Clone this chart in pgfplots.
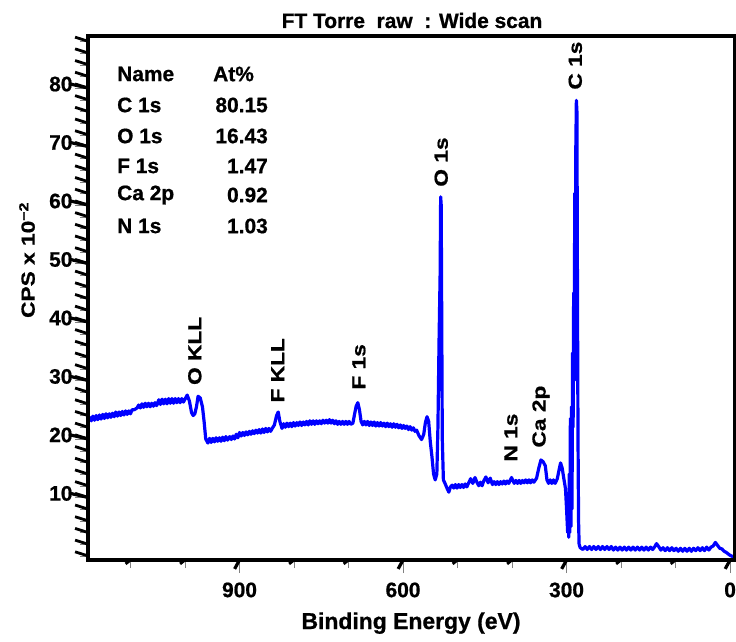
\documentclass[border=0pt]{standalone}
\usepackage{fontspec}
\setmainfont{Liberation Sans}[BoldFeatures={FakeBold=0.8}]
\newfontfamily\widefont{Liberation Sans}[FakeStretch=1.2,BoldFeatures={FakeBold=0.8}]
\usepackage{pgfplots}
\pgfplotsset{compat=1.18}
\newcommand\fs[1]{\fontsize{#1}{#1}\selectfont\bfseries}
\begin{document}
\begin{tikzpicture}
\path[use as bounding box] (-88bp,-82bp) rectangle (648bp,560bp);
\begin{axis}[
  scale only axis, width=647bp, height=524bp,
  at={(0,0)}, anchor=south west,
  x dir=reverse, xmin=-9, xmax=1178, ymin=-0.7, ymax=88.9,
  xtick={0,300,600,900}, minor xtick={100,200,400,500,700,800,1000,1100},
  ytick={10,20,30,40,50,60,70,80}, minor ytick={0,2,...,88},
  tick pos=left, tick align=outside,
  major tick length=13bp, minor tick length=8bp,
  /pgf/number format/assume math mode=true,
  ticklabel style={font=\fs{21}},
  xticklabel style={yshift=-6bp},
  yticklabel style={yshift=4bp, xshift=1bp},
  clip=false,
]
\addplot[blue, line width=3.2bp, line join=round] coordinates {
(1178,23.0)(1175,23.7)(1172,23.1)(1169,23.9)(1166,23.2)(1163,24.0)(1160,23.3)(1157,24.1)(1154,23.4)(1151,24.2)(1148,23.5)(1145,24.3)(1142,23.6)(1139,24.3)(1136,23.7)(1133,24.4)(1130,23.8)(1127,24.6)(1124,23.9)(1121,24.6)(1118,24.0)(1115,24.7)(1112,24.1)(1109,24.8)(1106,24.2)(1103,24.8)(1100,24.3)(1097,25.0)(1093,25.0)(1088,25.3)(1085,25.8)(1082,25.3)(1079,26.0)(1076,25.4)(1073,26.1)(1070,25.5)(1067,26.1)(1064,25.5)(1061,26.1)(1058,25.6)(1055,26.2)(1052,25.7)(1048,26.7)(1045,25.9)(1042,26.8)(1039,26.0)(1036,26.8)(1033,26.0)(1030,26.9)(1027,26.1)(1024,26.9)(1021,26.1)(1018,26.9)(1015,26.2)(1012,26.9)(1009,26.2)(1006,26.9)(1003,26.3)(1000,26.8)(996,27.5)(992,26.5)(988,24.5)(985,24.0)(982,24.3)(979,25.5)(976,27.3)(972,27.0)(968,25.5)(965,23.0)(962,20.0)(958,19.3)(955,20.1)(952,19.4)(949,20.1)(946,19.5)(943,20.2)(940,19.6)(937,20.2)(934,19.6)(931,20.3)(928,19.7)(925,20.4)(922,19.8)(918,20.4)(915,19.9)(912,20.5)(909,20.0)(906,20.8)(903,20.2)(900,21.1)(897,20.5)(894,21.1)(891,20.6)(888,21.2)(885,20.7)(882,21.3)(879,20.8)(876,21.4)(873,20.9)(870,21.5)(867,21.0)(864,21.6)(861,21.0)(858,21.7)(855,21.1)(852,21.8)(849,21.2)(846,21.8)(843,21.3)(840,21.8)(836,22.4)(832,24.0)(829,24.6)(826,23.0)(822,21.8)(819,22.6)(816,22.0)(813,22.7)(810,22.1)(807,22.7)(804,22.1)(801,22.8)(798,22.2)(795,22.8)(792,22.3)(789,22.9)(786,22.3)(783,22.9)(780,22.4)(777,23.0)(774,22.4)(771,23.1)(768,22.5)(765,23.1)(762,22.5)(759,23.1)(756,22.6)(753,23.1)(750,22.6)(747,23.2)(744,22.7)(741,23.2)(738,22.7)(735,23.3)(732,22.7)(729,23.2)(726,22.6)(723,23.1)(720,22.5)(717,23.0)(714,22.5)(711,23.0)(708,22.5)(705,23.0)(702,22.5)(699,23.0)(696,22.5)(692,22.7)(689,24.2)(686,25.6)(683,26.2)(680,25.0)(677,23.0)(674,22.4)(671,23.0)(668,22.4)(665,23.0)(662,22.3)(659,22.9)(656,22.3)(653,22.9)(650,22.2)(647,22.8)(644,22.2)(641,22.8)(638,22.2)(635,22.7)(632,22.1)(629,22.7)(626,22.1)(623,22.6)(620,22.0)(617,22.6)(614,22.0)(611,22.5)(608,21.9)(605,22.4)(602,21.8)(599,22.3)(596,21.8)(593,22.2)(590,21.6)(587,22.1)(584,21.5)(581,21.9)(578,21.3)(575,21.5)(571,20.6)(566,19.9)(562,20.8)(559,22.8)(556,23.8)(553,23.0)(550,19.5)(547,17.0)(544,14.0)(541,13.0)(538,14.0)(536,22.0)(534,36.4)(532,48.0)(531,61.4)(530,60.0)(529,40.0)(528,20.0)(526,13.0)(523,12.4)(519,11.5)(516,10.9)(513,11.8)
(510,12.1)(507,11.6)(504,12.2)(501,11.6)(498,12.2)(495,11.7)(492,12.2)(489,11.7)(486,12.3)(483,11.8)(480,12.4)(476,13.2)(472,12.4)(468,13.4)(464,12.5)(461,12.0)(458,12.6)(455,12.0)(452,12.8)(448,13.5)(444,12.5)(440,13.3)(436,12.2)(433,12.7)(430,12.2)(427,12.7)(424,12.2)(421,12.7)(418,12.3)(415,12.8)(412,12.3)(409,12.8)(406,12.4)(401,13.4)(396,12.4)(393,12.9)(390,12.4)(387,12.9)(384,12.4)(381,12.9)(378,12.5)(375,13.0)(372,12.5)(369,13.0)(366,12.5)(363,13.0)(360,12.6)(355,13.3)(351,15.0)(347,16.4)(343,16.1)(339,15.4)(336,13.0)(333,12.4)(330,13.0)(327,12.4)(324,13.0)(321,12.4)(317,13.2)(314,14.6)(311,15.9)(308,15.0)(305,13.2)(302,11.5)(300,8.0)(298,4.0)(297,9.0)(296,3.2)(295,14.0)(294,4.0)(293,23.5)(292,5.0)(291,25.5)(290,8.0)(289,34.7)(288,22.0)(287,45.0)(286,30.0)(285,62.0)(284,40.0)(283,70.0)(282,77.9)(281,76.0)(280,45.0)(279,20.0)(278,6.0)(277,2.0)(275,1.4)(270,1.1)(266,1.6)(262,1.1)(258,1.6)(254,1.1)(250,1.6)(246,1.1)(242,1.6)(238,1.1)(234,1.6)(230,1.1)(226,1.6)(222,1.1)(218,1.6)(214,1.0)(210,1.5)(206,1.0)(202,1.5)(198,1.0)(194,1.5)(190,1.0)(186,1.5)(182,1.0)(178,1.5)(174,1.0)(170,1.5)(166,1.0)(162,1.5)(158,1.0)(154,1.5)(150,1.0)(146,1.5)(142,1.1)(138,1.6)(135,2.1)(131,1.6)(127,1.0)(123,1.4)(119,0.9)(115,1.4)(111,0.9)(107,1.4)(103,0.9)(99,1.3)(95,0.8)(91,1.3)(87,0.8)(83,1.3)(79,0.8)(75,1.3)(71,0.8)(67,1.3)(63,0.9)(59,1.4)(55,0.9)(51,1.4)(47,0.9)(43,1.5)(39,1.0)(35,1.5)(31,1.7)(27,2.3)(23,1.8)(19,1.3)(15,1.2)(11,0.8)(7,0.6)(3,0.3)(0,0.1)(-9,-0.3)
};
% thick frame and ticks drawn over the default ones
\draw[line width=4.5bp, black] (rel axis cs:0,0) rectangle (rel axis cs:1,1);
\pgfplotsinvokeforeach{0,300,600,900}{\draw[line width=3.2bp, black] (axis cs:#1,-0.7) -- ++(0,-13bp);}
\pgfplotsinvokeforeach{100,200,400,500,700,800,1000,1100}{\draw[line width=2.8bp, black] (axis cs:#1,-0.7) -- ++(0,-8bp);}
\pgfplotsinvokeforeach{10,20,30,40,50,60,70,80}{\draw[line width=3.2bp, black] (axis cs:1178,#1) -- ++(-13bp,0);}
\pgfplotsinvokeforeach{0,2,...,88}{\draw[line width=2.8bp, black] (axis cs:1178,#1) -- ++(-8bp,0);}
\begin{scope}[every node/.style={rotate=90, anchor=west, inner sep=0pt, font=\widefont\fs{19}}]
\node at (axis cs:982,29.2) {O KLL};
\node at (axis cs:830,26.2) {F KLL};
\node at (axis cs:681,28.4) {F 1s};
\node at (axis cs:530,63.1) {O 1s};
\node at (axis cs:284,79.7) {C 1s};
\node at (axis cs:402,16.1) {N 1s};
\node at (axis cs:347,18.5) {Ca 2p};
\end{scope}
\end{axis}
\node[anchor=base, inner sep=0pt, font=\fs{21}] at (324bp,532bp) {FT Torre\ \ raw\ \ : Wide scan};
\node[anchor=base, inner sep=0pt, font=\fs{23}] at (323bp,-69bp) {Binding Energy (eV)};
\node[rotate=90, inner sep=0pt, font=\widefont\fs{19}] at (-61bp,300bp) {CPS x 10\textsuperscript{−2}};
\begin{scope}[every node/.style={inner sep=0pt, font=\fs{21}}]
\node[anchor=west] at (29bp,486bp) {Name};
\node[anchor=west] at (125bp,486bp) {At\%};
\node[anchor=west] at (29bp,455bp) {C 1s};
\node[anchor=east] at (180bp,455bp) {80.15};
\node[anchor=west] at (29bp,424bp) {O 1s};
\node[anchor=east] at (180bp,424bp) {16.43};
\node[anchor=west] at (29bp,394bp) {F 1s};
\node[anchor=east] at (180bp,394bp) {1.47};
\node[anchor=west] at (29bp,365bp) {Ca 2p};
\node[anchor=east] at (180bp,365bp) {0.92};
\node[anchor=west] at (29bp,334bp) {N 1s};
\node[anchor=east] at (180bp,334bp) {1.03};
\end{scope}
\end{tikzpicture}
\end{document}
